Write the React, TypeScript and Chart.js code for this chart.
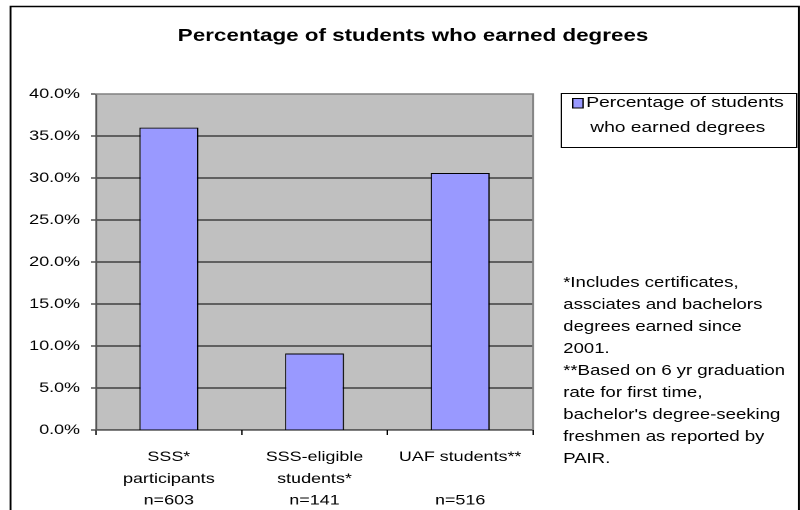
import React, { useEffect, useRef } from "react";
import { Chart, registerables } from "chart.js";

Chart.register(...registerables);

// ---- data ----
const categories: string[][] = [
  ["SSS*", "participants", "n=603"],
  ["SSS-eligible", "students*", "n=141"],
  ["UAF students**", "", "n=516"],
];
const values: number[] = [36.0, 9.1, 30.6];
const seriesName = "Percentage of students who earned degrees";
const chartTitle = "Percentage of students who earned degrees";
const legendLines: string[] = ["Percentage of students", "who earned degrees"];
const yMin = 0;
const yMax = 40;
const yStep = 5;
const notes: string[] = [
  "*Includes certificates,",
  "assciates and bachelors",
  "degrees earned since",
  "2001.",
  "**Based on 6 yr graduation",
  "rate for first time,",
  "bachelor's degree-seeking",
  "freshmen as reported by",
  "PAIR.",
];

// logical canvas is horizontally stretched to the 800px display
const LW = 625;
const LH = 510;
const FONT = "'Liberation Sans', Arial, sans-serif";

const decor = {
  id: "decor",
  beforeDraw(chart: any) {
    const { ctx, chartArea: a } = chart;
    ctx.save();
    ctx.fillStyle = "#C0C0C0";
    ctx.fillRect(a.left, a.top, a.right - a.left, a.bottom - a.top);
    ctx.restore();
  },
  beforeDatasetsDraw(chart: any) {
    const { ctx, chartArea: a } = chart;
    ctx.save();
    ctx.strokeStyle = "#808080";
    ctx.lineWidth = 1.5;
    ctx.beginPath();
    ctx.moveTo(a.left, a.top);
    ctx.lineTo(a.right, a.top);
    ctx.lineTo(a.right, a.bottom);
    ctx.stroke();
    ctx.restore();
  },
  afterDraw(chart: any) {
    const { ctx } = chart;
    ctx.save();
    // outer frame
    ctx.strokeStyle = "#000";
    ctx.lineWidth = 1.5;
    ctx.strokeRect(8.2, 6.5, 616, 520);

    // title
    ctx.fillStyle = "#000";
    ctx.font = `bold 17.5px ${FONT}`;
    ctx.textAlign = "center";
    ctx.textBaseline = "middle";
    ctx.fillText(chartTitle, 322.7, 36);

    // legend
    ctx.lineWidth = 1;
    ctx.strokeStyle = "#000";
    ctx.strokeRect(438.5, 93.5, 184, 54);
    ctx.fillStyle = "#9999FF";
    ctx.fillRect(447.5, 98.5, 8, 9.5);
    ctx.strokeRect(447.5, 98.5, 8, 9.5);
    ctx.fillStyle = "#000";
    ctx.font = `15px ${FONT}`;
    ctx.textAlign = "left";
    ctx.fillText(legendLines[0], 458, 103);
    ctx.textAlign = "center";
    ctx.fillText(legendLines[1], 529.5, 128);

    // notes
    ctx.font = `14.5px ${FONT}`;
    ctx.textAlign = "left";
    notes.forEach((t, i) => ctx.fillText(t, 440, 283 + i * 22));
    ctx.restore();
  },
};

export default function App() {
  const ref = useRef<HTMLCanvasElement | null>(null);

  useEffect(() => {
    const prevMargin = document.body.style.margin;
    document.body.style.margin = "0";
    const canvas = ref.current!;
    const chart = new Chart(canvas, {
      type: "bar",
      data: {
        labels: categories,
        datasets: [
          {
            label: seriesName,
            data: values,
            backgroundColor: "#9999FF",
            borderColor: "#000000",
            borderWidth: 1,
            barPercentage: 0.405,
            categoryPercentage: 1,
          },
        ],
      },
      options: {
        responsive: false,
        devicePixelRatio: 2,
        animation: false,
        layout: { padding: { left: 20, right: LW - 416.4, top: 94, bottom: 0 } },
        plugins: {
          legend: { display: false },
          title: { display: false },
          tooltip: { enabled: false },
        },
        scales: {
          x: {
            afterFit: (s: any) => {
              s.height = 80;
            },
            grid: {
              offset: true,
              drawOnChartArea: false,
              drawTicks: true,
              tickLength: 5,
              color: "#000",
              lineWidth: 1,
            },
            border: { color: "#000", width: 1 },
            ticks: {
              color: "#000",
              font: { family: FONT, size: 14, lineHeight: 1.55 },
              padding: 11.5,
              maxRotation: 0,
              autoSkip: false,
            },
          },
          y: {
            min: yMin,
            max: yMax,
            afterFit: (s: any) => {
              s.width = 55;
            },
            grid: {
              color: "#000",
              lineWidth: 1,
              tickLength: 4,
              drawTicks: true,
            },
            border: { color: "#555", width: 1.5 },
            ticks: {
              stepSize: yStep,
              color: "#000",
              font: { family: FONT, size: 14 },
              padding: 8.5,
              callback: (v: any) => Number(v).toFixed(1) + "%",
            },
          },
        },
      },
      plugins: [decor],
    });
    return () => {
      chart.destroy();
      document.body.style.margin = prevMargin;
    };
  }, []);

  return (
    <div style={{ position: "fixed", left: 0, top: 0, width: 800, height: 510, background: "#fff" }}>
      <canvas
        ref={ref}
        width={LW}
        height={LH}
        style={{ width: "800px", height: "510px", display: "block" }}
      />
    </div>
  );
}
